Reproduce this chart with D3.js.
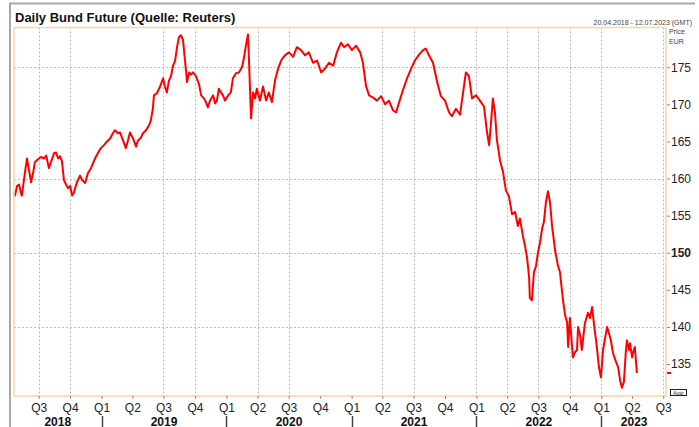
<!DOCTYPE html>
<html>
<head>
<meta charset="utf-8">
<title>Daily Bund Future</title>
<script src="https://cdnjs.cloudflare.com/ajax/libs/d3/7.8.5/d3.min.js"></script>
<style>
  body { margin: 0; background: #fff; }
  svg { display: block; font-family: Arial, "Liberation Sans", sans-serif; }
  .domain { display: none; }
  .tick line { stroke: #888; }
  .tick text { fill: #222; font-size: 12px; }
</style>
</head>
<body>
<svg width="699" height="427"></svg>
<script>
// price series
var dates = [
  "2018-04-20","2018-04-23","2018-04-29","2018-05-05","2018-05-10","2018-05-13","2018-05-22","2018-05-28",
  "2018-06-03","2018-06-09","2018-06-15","2018-06-20","2018-06-29","2018-07-08","2018-07-17","2018-07-23",
  "2018-07-31","2018-08-06","2018-08-15","2018-08-21","2018-08-27","2018-09-01","2018-09-07","2018-09-13",
  "2018-09-19","2018-09-25","2018-10-01","2018-10-07","2018-10-12","2018-10-21","2018-10-30","2018-11-05",
  "2018-11-14","2018-11-22","2018-12-01","2018-12-13","2018-12-22","2018-12-30","2019-01-08","2019-01-17",
  "2019-01-26","2019-02-03","2019-02-09","2019-02-18","2019-02-24","2019-03-05","2019-03-13","2019-03-19",
  "2019-03-25","2019-04-03","2019-04-12","2019-04-17","2019-04-26","2019-05-02","2019-05-11","2019-05-20",
  "2019-05-25","2019-05-31","2019-06-03","2019-06-12","2019-06-21","2019-06-30","2019-07-05","2019-07-11",
  "2019-07-17","2019-07-23","2019-07-29","2019-08-04","2019-08-10","2019-08-15","2019-08-21","2019-08-27",
  "2019-09-02","2019-09-08","2019-09-14","2019-09-19","2019-09-25","2019-10-04","2019-10-13","2019-10-19",
  "2019-10-27","2019-11-02","2019-11-08","2019-11-14","2019-11-23","2019-11-29","2019-12-04","2019-12-10",
  "2019-12-16","2019-12-22","2019-12-28","2020-01-06","2020-01-14","2020-01-20","2020-01-29","2020-02-07",
  "2020-02-16","2020-02-21","2020-02-27","2020-03-04","2020-03-07","2020-03-13","2020-03-19","2020-03-25",
  "2020-03-30","2020-04-08","2020-04-17","2020-04-26","2020-05-04","2020-05-13","2020-05-22","2020-05-31",
  "2020-06-09","2020-06-20","2020-07-02","2020-07-14","2020-07-25","2020-08-06","2020-08-18","2020-08-29",
  "2020-09-10","2020-09-22","2020-10-04","2020-10-15","2020-10-27","2020-11-08","2020-11-19","2020-12-01",
  "2020-12-10","2020-12-21","2021-01-02","2021-01-14","2021-01-26","2021-02-03","2021-02-12","2021-02-21",
  "2021-03-05","2021-03-16","2021-03-28","2021-04-09","2021-04-20","2021-05-02","2021-05-11","2021-05-20",
  "2021-05-31","2021-06-12","2021-06-24","2021-07-05","2021-07-17","2021-07-29","2021-08-06","2021-08-15",
  "2021-08-27","2021-09-08","2021-09-19","2021-10-01","2021-10-13","2021-10-21","2021-11-02","2021-11-14",
  "2021-11-23","2021-12-01","2021-12-10","2021-12-19","2021-12-31","2022-01-11","2022-01-23","2022-02-01",
  "2022-02-07","2022-02-12","2022-02-18","2022-02-24","2022-03-02","2022-03-11","2022-03-20","2022-03-28",
  "2022-04-06","2022-04-15","2022-04-24","2022-05-02","2022-05-08","2022-05-17","2022-05-23","2022-05-29",
  "2022-06-04","2022-06-06","2022-06-12","2022-06-18","2022-06-24","2022-06-30","2022-07-06","2022-07-12",
  "2022-07-17","2022-07-23","2022-07-29","2022-08-04","2022-08-10","2022-08-19","2022-08-27","2022-09-02",
  "2022-09-11","2022-09-17","2022-09-23","2022-09-26","2022-10-01","2022-10-10","2022-10-16","2022-10-22",
  "2022-10-25","2022-10-31","2022-11-05","2022-11-14","2022-11-23","2022-11-29","2022-12-05","2022-12-11",
  "2022-12-19","2022-12-25","2022-12-31","2023-01-06","2023-01-12","2023-01-18","2023-01-23","2023-01-29",
  "2023-02-04","2023-02-13","2023-02-19","2023-02-25","2023-03-02","2023-03-08","2023-03-14","2023-03-17",
  "2023-03-23","2023-03-26","2023-04-01","2023-04-04","2023-04-09","2023-04-15"
];
var prices = [
  158.1,157.7,159.0,159.2,158.1,157.7,160.8,162.7,
  161.1,159.5,160.8,162.2,162.6,162.9,162.7,163.1,
  161.4,162.2,163.4,163.5,162.7,163.0,162.4,159.8,
  159.2,158.7,159.0,157.7,158.1,159.5,160.4,159.8,
  159.4,160.7,161.4,162.7,163.5,164.1,164.5,165.0,
  165.4,166.1,166.5,166.1,166.2,165.1,164.1,165.1,
  166.2,165.4,164.3,165.1,165.5,166.1,166.5,167.2,
  167.8,169.4,171.2,171.5,172.4,173.5,172.4,171.6,
  173.2,173.8,175.2,175.9,177.8,179.0,179.3,178.7,
  175.9,173.0,174.3,174.0,174.3,173.8,172.7,171.2,
  170.8,170.3,169.6,170.5,171.2,170.1,170.5,172.1,
  171.6,171.2,170.5,171.2,171.6,173.5,174.2,174.3,
  175.1,176.2,177.9,179.4,175.9,168.1,171.6,170.8,
  172.1,170.5,172.4,170.5,171.6,170.3,173.2,174.8,
  175.9,176.6,177.0,176.4,177.7,177.3,176.6,177.0,
  175.6,175.9,174.3,174.8,175.6,175.2,177.0,178.3,
  177.7,178.1,177.3,177.9,177.0,175.6,172.5,171.2,
  170.9,170.5,171.1,170.0,170.5,169.2,168.9,170.3,
  171.9,173.5,174.8,175.9,176.7,177.3,177.5,176.6,
  175.6,173.0,171.1,170.5,168.9,168.4,169.4,168.6,
  171.6,174.3,173.8,170.8,171.2,170.5,169.7,166.2,
  164.5,167.2,170.8,168.9,165.1,162.4,160.8,158.4,
  157.6,155.2,155.5,153.6,154.6,152.2,150.9,149.3,
  146.6,143.9,143.6,147.4,148.2,150.1,151.4,153.3,
  154.1,156.8,158.3,156.8,153.6,150.3,148.3,147.4,
  143.6,141.6,140.6,137.3,141.2,135.9,136.6,136.9,
  140.0,138.9,136.9,140.5,141.9,141.2,142.7,140.2,
  137.3,134.6,133.2,136.9,138.5,140.0,139.2,138.2,
  136.5,135.3,134.6,132.8,131.8,132.6,136.9,138.2,
  136.9,137.8,135.9,136.6,137.3,133.8
];

var priceTicks = [135, 140, 145, 150, 155, 160, 165, 170, 175];
var gridPrices = [140, 150, 160, 175];

var quarterStarts = [
  "2018-07-01","2018-10-01","2019-01-01","2019-04-01","2019-07-01","2019-10-01",
  "2020-01-01","2020-04-01","2020-07-01","2020-10-01","2021-01-01","2021-04-01",
  "2021-07-01","2021-10-01","2022-01-01","2022-04-01","2022-07-01","2022-10-01",
  "2023-01-01","2023-04-01","2023-07-01"
];
var quarterLabels = ["Q3","Q4","Q1","Q2","Q3","Q4","Q1","Q2","Q3","Q4","Q1","Q2",
                     "Q3","Q4","Q1","Q2","Q3","Q4","Q1","Q2","Q3"];
var gridQuarters = [
  "2018-07-01","2018-10-01","2019-07-01","2019-10-01","2020-04-01","2020-07-01",
  "2021-04-01","2021-07-01","2022-01-01","2022-04-01","2022-07-01","2022-10-01",
  "2023-01-01","2023-07-01"
];
var years = ["2018","2019","2020","2021","2022","2023"];
var yearStarts = ["2018-04-20","2019-01-01","2020-01-01","2021-01-01","2022-01-01","2023-01-01","2023-07-12"];

var parse = d3.timeParse("%Y-%m-%d");
var data = dates.map((d, i) => ({ date: parse(d), price: prices[i] }));

var svg = d3.select("svg");
var plotL = 14, plotR = 666, plotT = 27.5, plotB = 396;

var x = d3.scaleTime()
  .domain([parse("2018-04-20"), parse("2023-07-12")])
  .range([plotL, 667]);
var y = d3.scaleLinear().domain([130.7, 180.35]).range([plotB, plotT]);

// outer frame
svg.append("path")
  .attr("d", "M10,427V3.5H695")
  .attr("fill", "none")
  .attr("stroke", "#a8a8a8")
  .attr("stroke-width", 2);

svg.append("text")
  .attr("x", 15).attr("y", 21.5)
  .attr("font-size", 13).attr("font-weight", "bold").attr("fill", "#111")
  .text("Daily Bund Future (Quelle: Reuters)");

svg.append("text")
  .attr("x", 692).attr("y", 24.5)
  .attr("text-anchor", "end")
  .attr("font-size", 7).attr("fill", "#444")
  .text("20.04.2018 - 12.07.2023 (GMT)");

svg.append("text").attr("x", 669).attr("y", 34)
  .attr("font-size", 7).attr("fill", "#444").text("Price");
svg.append("text").attr("x", 669).attr("y", 43.5)
  .attr("font-size", 7).attr("fill", "#444").text("EUR");

// grid
var grid = svg.append("g")
  .attr("stroke", "#bdbdbd")
  .attr("stroke-width", 1)
  .attr("stroke-dasharray", "2,2");

grid.selectAll("line.gx")
  .data(gridQuarters)
  .enter().append("line")
    .attr("class", "gx")
    .attr("x1", d => Math.round(x(parse(d))) + 0.5)
    .attr("x2", d => Math.round(x(parse(d))) + 0.5)
    .attr("y1", plotT).attr("y2", plotB);

grid.selectAll("line.gy")
  .data(gridPrices)
  .enter().append("line")
    .attr("class", "gy")
    .attr("x1", plotL).attr("x2", plotR)
    .attr("y1", d => Math.round(y(d)) + 0.5)
    .attr("y2", d => Math.round(y(d)) + 0.5);

// price line
var line = d3.line()
  .x(d => x(d.date))
  .y(d => y(d.price));

svg.append("path")
  .datum(data)
  .attr("fill", "none")
  .attr("stroke", "#ff0000")
  .attr("stroke-width", 2)
  .attr("stroke-linejoin", "round")
  .attr("d", line);

// plot border
svg.append("rect")
  .attr("x", plotL).attr("y", plotT)
  .attr("width", plotR - plotL).attr("height", plotB - plotT)
  .attr("fill", "none")
  .attr("stroke", "#fdd2a6")
  .attr("stroke-width", 1.5);

// axes
var yAxis = d3.axisRight(y).tickValues(priceTicks).tickSize(3).tickPadding(1);
svg.append("g")
  .attr("transform", "translate(667,0)")
  .call(yAxis)
  .selectAll(".tick text")
    .attr("font-weight", d => d === 150 ? "bold" : "normal");

var xAxis = d3.axisBottom(x)
  .tickValues(quarterStarts.map(parse))
  .tickSize(3)
  .tickPadding(4)
  .tickFormat((d, i) => quarterLabels[i]);
svg.append("g")
  .attr("transform", "translate(0," + plotB + ")")
  .call(xAxis);

// year labels and separators
svg.selectAll("text.year")
  .data(years)
  .enter().append("text")
    .attr("class", "year")
    .attr("x", (d, i) => (x(parse(yearStarts[i])) + x(parse(yearStarts[i + 1]))) / 2)
    .attr("y", 425.5)
    .attr("text-anchor", "middle")
    .attr("font-size", 12).attr("font-weight", "bold").attr("fill", "#111")
    .text(d => d);

svg.selectAll("line.ysep")
  .data(yearStarts.slice(1, -1))
  .enter().append("line")
    .attr("class", "ysep")
    .attr("x1", d => Math.round(x(parse(d))) + 0.5)
    .attr("x2", d => Math.round(x(parse(d))) + 0.5)
    .attr("y1", 416).attr("y2", 427)
    .attr("stroke", "#444").attr("stroke-width", 1.5);

// last price marker
var last = data[data.length - 1];
svg.append("line")
  .attr("x1", 667).attr("x2", 671)
  .attr("y1", y(last.price)).attr("y2", y(last.price))
  .attr("stroke", "#ff0000").attr("stroke-width", 2);

// "Auto" button
svg.append("rect")
  .attr("x", 670.5).attr("y", 389.5).attr("width", 16).attr("height", 6)
  .attr("fill", "#fff").attr("stroke", "#222").attr("stroke-width", 1);
svg.append("text")
  .attr("x", 678.5).attr("y", 394.5).attr("text-anchor", "middle")
  .attr("font-size", 5).attr("fill", "#222").text("Auto");
</script>
</body>
</html>
